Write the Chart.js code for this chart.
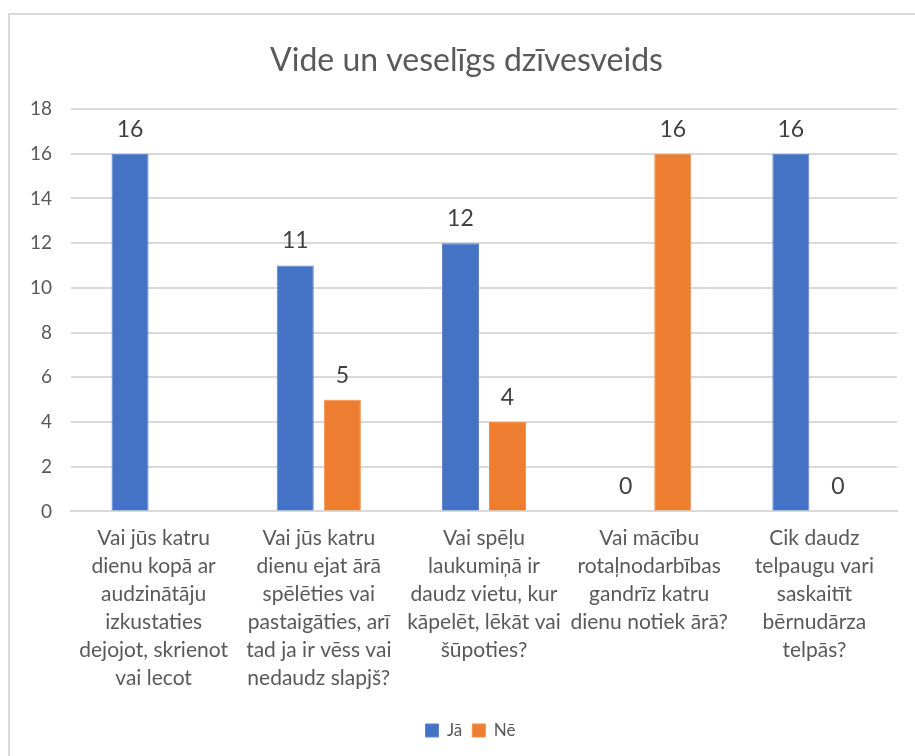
<!DOCTYPE html>
<html>
<head>
<meta charset="utf-8">
<script src="https://cdn.jsdelivr.net/npm/chart.js@4.4.0/dist/chart.umd.min.js"></script>
<style>
  body { margin: 0; background: #fff; overflow: hidden; }
  #frame {
    position: absolute; left: 8px; top: 13px;
    width: 920px; height: 760px;
    border: 2px solid #d9d9d9; background: #fff;
  }
  #box { position: absolute; left: 0; top: 0; width: 905px; height: 741px; }
</style>
</head>
<body>
<div id="frame"><div id="box"><canvas id="myChart"></canvas></div></div>
<script>
// chart data
const chartTitle = 'Vide un veselīgs dzīvesveids';
const categories = [
    ['Vai jūs katru', 'dienu kopā ar', 'audzinātāju', 'izkustaties', 'dejojot, skrienot', 'vai lecot'],
    ['Vai jūs katru', 'dienu ejat ārā', 'spēlēties vai', 'pastaigāties, arī', 'tad ja ir vēss vai', 'nedaudz slapjš?'],
    ['Vai spēļu', 'laukumiņā ir', 'daudz vietu, kur', 'kāpelēt, lēkāt vai', 'šūpoties?'],
    ['Vai mācību', 'rotaļnodarbības', 'gandrīz katru', 'dienu notiek ārā?'],
    ['Cik daudz', 'telpaugu vari', 'saskaitīt', 'bērnudārza', 'telpās?']
];
const seriesNames = ['Jā', 'Nē'];
const jaValues = [16, 11, 12, 0, 16];
const neValues = [null, 5, 4, 16, 0];
const yTicks = [0, 2, 4, 6, 8, 10, 12, 14, 16, 18];

const FONT = 'Lato, "Open Sans", sans-serif';

// draws the value above each bar (like Excel data labels)
const valueLabels = {
    id: 'valueLabels',
    afterDatasetsDraw(chart) {
        const c = chart.ctx;
        c.save();
        c.font = '23px ' + FONT;
        c.fillStyle = '#404040';
        c.textAlign = 'center';
        c.textBaseline = 'alphabetic';
        chart.data.datasets.forEach(function (ds, i) {
            const meta = chart.getDatasetMeta(i);
            meta.data.forEach(function (bar, j) {
                if (ds.data[j] === null) return;
                c.fillText(ds.data[j], bar.x, bar.y - 17);
            });
        });
        c.restore();
    }
};

// Excel centres title and legend a bit further right than chart.js does
const nudgeBlocks = {
    id: 'nudgeBlocks',
    afterLayout(chart) {
        chart.titleBlock.left += 13;
        chart.titleBlock.right += 13;
        chart.legend.left += 17;
        chart.legend.right += 17;
    }
};

const ctx = document.getElementById('myChart').getContext('2d');
const myChart = new Chart(ctx, {
    type: 'bar',
    data: {
        labels: categories,
        datasets: [{
            label: seriesNames[0],
            data: jaValues,
            backgroundColor: '#4472c4',
            borderColor: '#5b84cf',
            borderWidth: 1
        }, {
            label: seriesNames[1],
            data: neValues,
            backgroundColor: '#ed7d31',
            borderColor: '#f09050',
            borderWidth: 1
        }]
    },
    options: {
        responsive: true,
        maintainAspectRatio: false,
        animation: false,
        layout: { padding: { left: 0, right: 18, top: 0, bottom: 7 } },
        datasets: { bar: { categoryPercentage: 0.57, barPercentage: 0.787 } },
        plugins: {
            title: {
                display: true,
                text: chartTitle,
                color: '#595959',
                font: { family: FONT, size: 32, weight: 'normal' },
                padding: { top: 26, bottom: 29.6 }
            },
            legend: {
                position: 'bottom',
                labels: {
                    color: '#595959',
                    font: { family: FONT, size: 17 },
                    boxWidth: 13,
                    boxHeight: 13,
                    padding: 10
                }
            },
            tooltip: { enabled: false }
        },
        scales: {
            x: {
                grid: { display: false, drawTicks: false },
                border: { display: true, color: '#d9d9d9', width: 2 },
                afterFit: function (scale) { scale.height += 7; },
                ticks: {
                    color: '#595959',
                    font: { family: FONT, size: 21, lineHeight: 1.33 },
                    padding: 13,
                    maxRotation: 0,
                    autoSkip: false
                }
            },
            y: {
                min: 0,
                max: 18,
                afterBuildTicks: function (scale) {
                    scale.ticks = yTicks.map(function (v) { return { value: v }; });
                },
                afterFit: function (scale) { scale.width = 61; },
                grid: { color: '#d9d9d9', lineWidth: 2, drawTicks: false },
                border: { display: false },
                ticks: {
                    color: '#595959',
                    font: { family: FONT, size: 19 },
                    padding: 19
                }
            }
        }
    },
    plugins: [valueLabels, nudgeBlocks]
});
</script>
</body>
</html>
